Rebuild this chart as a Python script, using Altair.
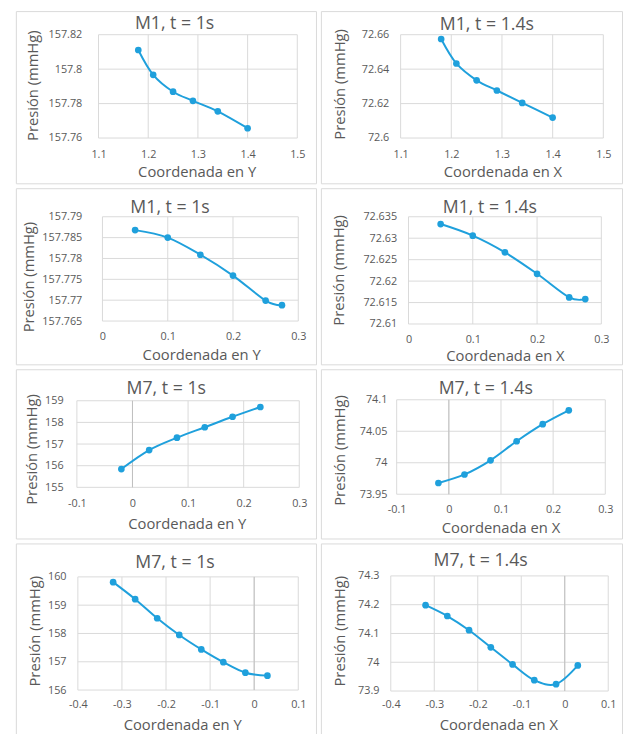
import altair as alt
import pandas as pd

BLUE = "#1fa0dc"
GRID = "#d9d9d9"
TXT = "#595959"
FONT = "Open Sans"

# ---- data ----
titles = ["M1, t = 1s", "M1, t = 1.4s", "M1, t = 1s", "M1, t = 1.4s",
          "M7, t = 1s", "M7, t = 1.4s", "M7, t = 1s", "M7, t = 1.4s"]
x_titles = ["Coordenada en Y", "Coordenada en X"] * 4
y_title = "Presión (mmHg)"

coord_a = [1.18, 1.21, 1.25, 1.29, 1.34, 1.40]
pres_a = [157.8111, 157.7967, 157.7869, 157.7816, 157.7755, 157.7657]
coord_b = [1.18, 1.21, 1.25, 1.29, 1.34, 1.40]
pres_b = [72.6575, 72.6433, 72.6335, 72.6276, 72.6204, 72.6119]
coord_c = [0.05, 0.10, 0.15, 0.20, 0.25, 0.275]
pres_c = [157.7868, 157.7850, 157.7809, 157.7759, 157.7699, 157.7688]
coord_d = [0.05, 0.10, 0.15, 0.20, 0.25, 0.275]
pres_d = [72.6333, 72.6306, 72.6267, 72.6217, 72.6162, 72.6158]
coord_e = [-0.02, 0.03, 0.08, 0.13, 0.18, 0.23]
pres_e = [155.845, 156.721, 157.294, 157.777, 158.260, 158.713]
coord_f = [-0.02, 0.03, 0.08, 0.13, 0.18, 0.23]
pres_f = [73.9678, 73.9814, 74.0039, 74.0342, 74.0613, 74.0833]
coord_g = [-0.32, -0.27, -0.22, -0.17, -0.12, -0.07, -0.02, 0.03]
pres_g = [159.814, 159.212, 158.539, 157.948, 157.438, 156.986, 156.614, 156.510]
coord_h = [-0.32, -0.27, -0.22, -0.17, -0.12, -0.07, -0.02, 0.03]
pres_h = [74.1983, 74.1606, 74.1114, 74.052, 73.9926, 73.9377, 73.924, 73.9891]

xticks_ab = [1.1, 1.2, 1.3, 1.4, 1.5]
yticks_a = [157.76, 157.78, 157.8, 157.82]
yticks_b = [72.6, 72.62, 72.64, 72.66]
xticks_cd = [0, 0.1, 0.2, 0.3]
yticks_c = [157.765, 157.77, 157.775, 157.78, 157.785, 157.79]
yticks_d = [72.61, 72.615, 72.62, 72.625, 72.63, 72.635]
xticks_ef = [-0.1, 0, 0.1, 0.2, 0.3]
yticks_e = [155, 156, 157, 158, 159]
yticks_f = [73.95, 74, 74.05, 74.1]
xticks_gh = [-0.4, -0.3, -0.2, -0.1, 0, 0.1]
yticks_g = [156, 157, 158, 159, 160]
yticks_h = [73.9, 74, 74.1, 74.2, 74.3]

series = [
    (coord_a, pres_a, xticks_ab, yticks_a),
    (coord_b, pres_b, xticks_ab, yticks_b),
    (coord_c, pres_c, xticks_cd, yticks_c),
    (coord_d, pres_d, xticks_cd, yticks_d),
    (coord_e, pres_e, xticks_ef, yticks_e),
    (coord_f, pres_f, xticks_ef, yticks_f),
    (coord_g, pres_g, xticks_gh, yticks_g),
    (coord_h, pres_h, xticks_gh, yticks_h),
]
zero_axis = [False, False, False, False, True, True, True, True]

# ---- layout (pixels)
# W,H: panel (bordered box); pl,pt: plot offset inside the box; w,h: plot size
# tt: chart title centre/baseline rel. plot; yt: y-title baseline x / centre y; xt: x-title centre x / baseline y
layout = [
    dict(W=305, H=175, pl=84, pt=24, w=202, h=105, tt=(77.3, -5.8), yt=(-61.6, 51.3), xt=(99.7, 38.6), ylp=17, xlp=10.8),
    dict(W=306, H=175, pl=81, pt=24, w=206, h=105, tt=(87.7, -5.1), yt=(-56.6, 50.0), xt=(103.5, 39.0), ylp=12, xlp=10.8),
    dict(W=305, H=179, pl=88, pt=29, w=199, h=106, tt=(68.7, -3.8), yt=(-69.6, 60.8), xt=(100.3, 38.6), ylp=21, xlp=9.8),
    dict(W=306, H=179, pl=89, pt=29, w=196, h=109, tt=(82.7, -3.8), yt=(-65.6, 54.0), xt=(98.0, 36.8), ylp=12, xlp=9.8),
    dict(W=305, H=172, pl=62, pt=32, w=226, h=88, tt=(90.8, -7.1), yt=(-41.3, 49.0), xt=(111.7, 41.7), ylp=14, xlp=10.2),
    dict(W=306, H=172, pl=77, pt=31, w=212, h=96, tt=(90.5, -6.1), yt=(-52.6, 51.0), xt=(105.5, 38.9), ylp=10, xlp=9.8),
    dict(W=305, H=217, pl=63, pt=34, w=224, h=115, tt=(98.7, -9.1), yt=(-39.0, 54.7), xt=(106.0, 40.2), ylp=12, xlp=8.8),
    dict(W=306, H=217, pl=71, pt=33, w=221, h=117, tt=(91.3, -9.8), yt=(-46.6, 55.7), xt=(109.3, 39.4), ylp=12, xlp=8.0),
]


def panel(i):
    cx, py, xt, yt = series[i]
    L = layout[i]
    pl, pt, w, h = L["pl"], L["pt"], L["w"], L["h"]
    df = pd.DataFrame({"x": cx, "y": py})
    xscale = alt.Scale(domain=[xt[0], xt[-1]], range=[pl, pl + w], nice=False, zero=False)
    yscale = alt.Scale(domain=[yt[0], yt[-1]], range=[pt + h, pt], nice=False, zero=False)
    xenc = alt.X("x:Q", scale=xscale, axis=alt.Axis(
        values=xt, tickCount=50, title=x_titles[i], labelExpr="'' + datum.value",
        labelPadding=L["xlp"], labelFlush=False, labelOverlap=False,
        offset=-(L["H"] - pt - h),
        titleX=pl + L["xt"][0], titleY=L["xt"][1], titleBaseline="alphabetic",
        titleAlign="center"))
    yenc = alt.Y("y:Q", scale=yscale, axis=alt.Axis(
        values=yt, tickCount=50, title=y_title, labelExpr="'' + datum.value",
        labelPadding=L["ylp"], labelFlush=False, labelOverlap=False,
        offset=-pl,
        titleX=L["yt"][0], titleY=pt + L["yt"][1], titleBaseline="alphabetic",
        titleAlign="center", titleAngle=270))

    # gridlines from the tick lists, through the scales
    vg = pd.DataFrame({"x": xt, "y": [yt[0]] * len(xt), "y2": [yt[-1]] * len(xt)})
    hg = pd.DataFrame({"y": yt, "x": [xt[0]] * len(yt), "x2": [xt[-1]] * len(yt)})
    vgrid = alt.Chart(vg).mark_rule(color=GRID, strokeWidth=1).encode(x=xenc, y=yenc, y2="y2:Q")
    hgrid = alt.Chart(hg).mark_rule(color=GRID, strokeWidth=1).encode(y="y:Q", x="x:Q", x2="x2:Q")

    line = alt.Chart(df).mark_line(interpolate="cardinal", color=BLUE, strokeWidth=2).encode(x="x:Q", y="y:Q")
    pts = alt.Chart(df).mark_circle(size=46, color=BLUE, opacity=1).encode(x="x:Q", y="y:Q")
    one = pd.DataFrame({"t": [titles[i]]})
    title = alt.Chart(one).mark_text(font=FONT, fontSize=18, color=TXT, align="center",
                                     baseline="alphabetic").encode(
        text="t:N", x=alt.value(pl + L["tt"][0]), y=alt.value(pt + L["tt"][1]))
    layers = [vgrid, hgrid]
    if zero_axis[i]:
        zdf = pd.DataFrame({"x": [0], "y": [yt[0]], "y2": [yt[-1]]})
        layers.append(alt.Chart(zdf).mark_rule(color="#bfbfbf", strokeWidth=1).encode(
            x="x:Q", y="y:Q", y2="y2:Q"))
    layers += [line, pts, title]
    return alt.layer(*layers).properties(width=L["W"], height=L["H"])


chart = alt.concat(*[panel(i) for i in range(8)], columns=2, spacing=5, bounds="flush").properties(
    padding={"left": 7, "top": -4, "right": 0, "bottom": 0}
).configure_view(stroke=GRID, strokeWidth=1).configure_axis(
    domain=False, ticks=False, tickSize=0, grid=False,
    labelColor=TXT, labelFont=FONT, labelFontSize=11,
    titleColor=TXT, titleFont=FONT, titleFontSize=15, titleFontWeight="normal"
)

chart.save("out.html", embed_options={"renderer": "svg", "actions": False})
